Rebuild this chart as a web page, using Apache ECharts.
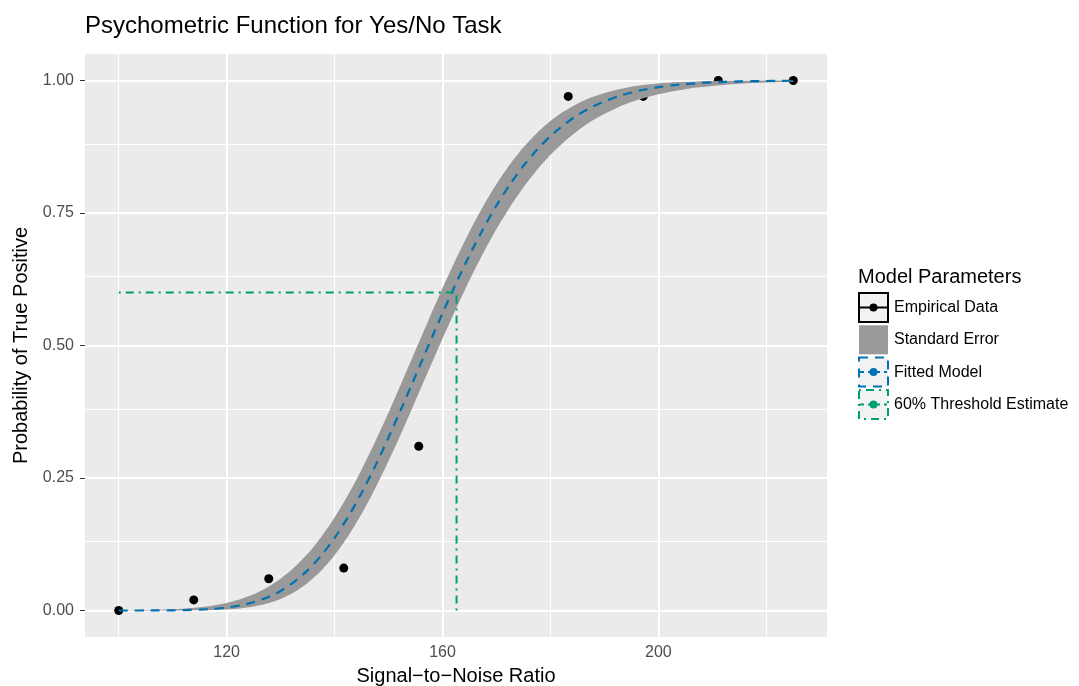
<!DOCTYPE html>
<html>
<head>
<meta charset="utf-8">
<title>Psychometric Function for Yes/No Task</title>
<script src="https://cdn.jsdelivr.net/npm/echarts@6/dist/echarts.min.js"></script>
<style>
  html, body { margin: 0; padding: 0; background: #fff; }
  #chart { width: 1079px; height: 686px; }
</style>
</head>
<body>
<div id="chart"></div>
<script>
// empirical data points
var empX = [100, 113.9, 127.8, 141.7, 155.6, 183.3, 197.2, 211.1, 225];
var empY = [0, 0.02, 0.06, 0.08, 0.31, 0.97, 0.97, 1.0, 1.0];

// fitted model + standard error band
var snr = [100, 102.5, 105, 107.5, 110, 112.5, 115, 117.5, 120, 122.5,
           125, 127.5, 130, 132.5, 135, 137.5, 140, 142.5, 145, 147.5,
           150, 152.5, 155, 157.5, 160, 162.5, 165, 167.5, 170, 172.5,
           175, 177.5, 180, 182.5, 185, 187.5, 190, 192.5, 195, 197.5,
           200, 202.5, 205, 207.5, 210, 212.5, 215, 217.5, 220, 222.5, 225];
var fitted = [0.0000, 0.0000, 0.0001, 0.0002, 0.0004, 0.0008, 0.0017, 0.0031, 0.0056, 0.0096,
              0.0156, 0.0245, 0.0369, 0.0538, 0.0757, 0.1032, 0.1368, 0.1763, 0.2216, 0.2719,
              0.3264, 0.3838, 0.4429, 0.5024, 0.5608, 0.6172, 0.6703, 0.7195, 0.7642, 0.8041,
              0.8391, 0.8693, 0.8951, 0.9166, 0.9345, 0.9490, 0.9607, 0.9700, 0.9774, 0.9830,
              0.9874, 0.9907, 0.9932, 0.9951, 0.9965, 0.9975, 0.9982, 0.9987, 0.9991, 0.9994, 0.9996];
var seLower = [0.0000, 0.0000, 0.0000, 0.0000, 0.0001, 0.0002, 0.0004, 0.0009, 0.0020, 0.0040,
               0.0074, 0.0130, 0.0217, 0.0344, 0.0519, 0.0750, 0.1044, 0.1402, 0.1821, 0.2297,
               0.2819, 0.3378, 0.3958, 0.4546, 0.5129, 0.5694, 0.6232, 0.6735, 0.7196, 0.7613,
               0.7985, 0.8312, 0.8597, 0.8841, 0.9049, 0.9225, 0.9371, 0.9492, 0.9592, 0.9674,
               0.9740, 0.9794, 0.9837, 0.9871, 0.9898, 0.9920, 0.9937, 0.9951, 0.9962, 0.9970, 0.9977];
var seUpper = [0.0002, 0.0004, 0.0008, 0.0014, 0.0023, 0.0037, 0.0060, 0.0094, 0.0142, 0.0211,
               0.0306, 0.0434, 0.0599, 0.0809, 0.1070, 0.1384, 0.1754, 0.2179, 0.2656, 0.3177,
               0.3734, 0.4316, 0.4909, 0.5501, 0.6079, 0.6632, 0.7148, 0.7621, 0.8045, 0.8418,
               0.8739, 0.9010, 0.9235, 0.9418, 0.9563, 0.9678, 0.9766, 0.9832, 0.9882, 0.9918,
               0.9944, 0.9962, 0.9975, 0.9983, 0.9989, 0.9993, 0.9996, 0.9997, 0.9998, 0.9999, 0.9999];

// 60% threshold estimate
var thresholdP = 0.6;
var thresholdX = 162.6;
var thresholdStart = 100;

// axis ticks
var xMajor = [120, 160, 200];
var xMinor = [100, 140, 180, 220];
var yMajor = [0, 0.25, 0.5, 0.75, 1.0];
var yMinor = [0.125, 0.375, 0.625, 0.875];

var FONT = '"Liberation Sans", Arial, Helvetica, sans-serif';
var BLUE = '#0072B2';
var GREEN = '#009E73';
var RIBBON = '#999999';
var DASH = [9, 7];
var DOTDASH = [2, 5, 8, 5];

var chart = echarts.init(document.getElementById('chart'));

// background grid lines as markLines
var gridLines = [];
xMinor.forEach(function (v) { gridLines.push({ xAxis: v, lineStyle: { width: 1 } }); });
yMinor.forEach(function (v) { gridLines.push({ yAxis: v, lineStyle: { width: 1 } }); });
xMajor.forEach(function (v) { gridLines.push({ xAxis: v, lineStyle: { width: 2 } }); });
yMajor.forEach(function (v) { gridLines.push({ yAxis: v, lineStyle: { width: 2 } }); });

var empData = empX.map(function (x, i) { return [x, empY[i]]; });
var fitData = snr.map(function (x, i) { return [x, fitted[i]]; });

var option = {
    animation: false,
    textStyle: { fontFamily: FONT },
    title: {
        text: 'Psychometric Function for Yes/No Task',
        left: 85,
        top: 14,
        padding: 0,
        textStyle: { fontSize: 24, fontWeight: 'normal', color: '#000', fontFamily: FONT }
    },
    grid: {
        left: 85, right: 252, top: 54, bottom: 49,
        outerBoundsMode: 'none',
        containLabel: false,
        show: true, backgroundColor: '#EBEBEB', borderWidth: 0
    },
    xAxis: {
        type: 'value',
        min: 93.75, max: 231.25,
        name: 'Signal\u2212to\u2212Noise Ratio',
        nameLocation: 'middle',
        nameGap: 29,
        nameTextStyle: { fontSize: 20, color: '#000', fontFamily: FONT },
        axisLine: { show: false },
        splitLine: { show: false },
        axisTick: { show: true, customValues: xMajor, length: 5, lineStyle: { color: '#333333', width: 1 } },
        axisLabel: { customValues: xMajor, color: '#4D4D4D', fontSize: 16, margin: 8, fontFamily: FONT }
    },
    yAxis: {
        type: 'value',
        min: -0.05, max: 1.05,
        name: 'Probability of True Positive',
        nameLocation: 'middle',
        nameRotate: 90,
        nameGap: 54,
        nameTextStyle: { fontSize: 20, color: '#000', fontFamily: FONT },
        axisLine: { show: false },
        splitLine: { show: false },
        axisTick: { show: true, customValues: yMajor, length: 5, lineStyle: { color: '#333333', width: 1 } },
        axisLabel: {
            customValues: yMajor, color: '#4D4D4D', fontSize: 16, margin: 11, fontFamily: FONT,
            formatter: function (v) { return v.toFixed(2); }
        }
    },
    series: [
        {
            name: 'Empirical Data',
            type: 'scatter',
            z: 2,
            symbolSize: 9,
            itemStyle: { color: '#000', opacity: 1 },
            data: empData,
            markLine: {
                silent: true,
                z: 1,
                symbol: ['none', 'none'],
                label: { show: false },
                lineStyle: { color: '#FFFFFF', type: 'solid' },
                data: gridLines
            }
        },
        {
            name: 'Standard Error',
            type: 'custom',
            z: 3,
            silent: true,
            data: [[snr[0], seLower[0]]],
            renderItem: function (params, api) {
                var pts = [];
                for (var i = 0; i < snr.length; i++) pts.push(api.coord([snr[i], seUpper[i]]));
                for (var j = snr.length - 1; j >= 0; j--) pts.push(api.coord([snr[j], seLower[j]]));
                return { type: 'polygon', shape: { points: pts, smooth: 0.2 }, style: { fill: RIBBON } };
            }
        },
        {
            name: 'Fitted Model',
            type: 'line',
            z: 4,
            symbol: 'none',
            smooth: 0.2,
            lineStyle: { color: BLUE, width: 2.2, type: DASH },
            data: fitData
        },
        {
            name: '60% Threshold Estimate',
            type: 'line',
            z: 5,
            symbol: 'none',
            lineStyle: { color: GREEN, width: 2, type: DOTDASH },
            data: [[thresholdStart, thresholdP], [thresholdX, thresholdP]]
        },
        {
            name: '60% Threshold Estimate',
            type: 'line',
            z: 5,
            symbol: 'none',
            lineStyle: { color: GREEN, width: 2, type: DOTDASH },
            data: [[thresholdX, 0], [thresholdX, thresholdP]]
        }
    ]
};

// legend drawn as graphics, ggplot style
var legendNames = ['Empirical Data', 'Standard Error', 'Fitted Model', '60% Threshold Estimate'];
var keyX = 858, keyTop = 292, keySize = 31, keyStep = 32.3;
var legendEls = [{
    type: 'text', left: keyX, top: 267,
    style: { text: 'Model Parameters', fill: '#000', font: '20px ' + FONT }
}];
var keyStyles = [
    { border: '#000', dash: 'solid', fill: '#F2F2F2', line: '#000', point: '#000' },
    { border: null, dash: null, fill: RIBBON, line: null, point: null },
    { border: BLUE, dash: DASH, fill: '#F2F2F2', line: BLUE, point: BLUE },
    { border: GREEN, dash: DOTDASH, fill: '#F2F2F2', line: GREEN, point: GREEN }
];
legendNames.forEach(function (name, i) {
    var y = keyTop + keyStep * i;
    var ks = keyStyles[i];
    legendEls.push({
        type: 'rect',
        shape: { x: keyX + 1, y: y + 1, width: keySize - 2, height: keySize - 2 },
        style: ks.border ? { fill: ks.fill, stroke: ks.border, lineWidth: 2, lineDash: ks.dash === 'solid' ? null : ks.dash }
                         : { fill: ks.fill }
    });
    if (ks.line) {
        legendEls.push({
            type: 'line',
            shape: { x1: keyX + 2, y1: y + keySize / 2, x2: keyX + keySize - 2, y2: y + keySize / 2 },
            style: { stroke: ks.line, lineWidth: 2, lineDash: ks.dash === 'solid' ? null : [4, 4] }
        });
        legendEls.push({
            type: 'circle',
            shape: { cx: keyX + keySize / 2, cy: y + keySize / 2, r: 4 },
            style: { fill: ks.point }
        });
    }
    legendEls.push({
        type: 'text',
        x: 894, y: y + keySize / 2,
        style: { text: name, font: '16px ' + FONT, fill: '#000', verticalAlign: 'middle', align: 'left' }
    });
});
option.graphic = legendEls;

chart.setOption(option);
</script>
</body>
</html>
